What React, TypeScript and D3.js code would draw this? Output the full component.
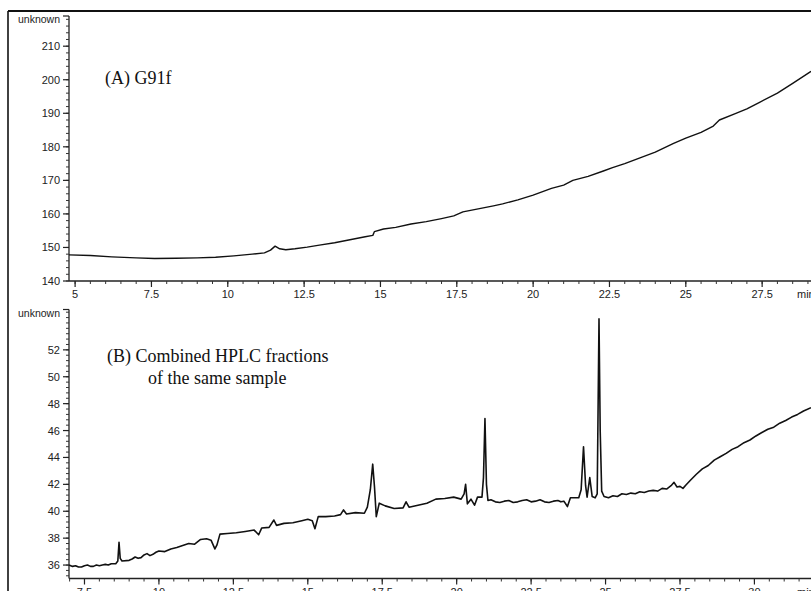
import * as React from "react";
import * as d3 from "d3";

// (A) G91f trace: retention time (min) and detector signal
const timeA = [4.8, 5.5, 6.2, 7.0, 7.6, 8.3, 9.0, 9.6, 10.2, 10.8, 11.2, 11.4, 11.55, 11.7, 11.9, 12.2, 12.6, 13.0, 13.5, 14.0, 14.5, 14.75, 14.8, 15.1, 15.5, 16.0, 16.5, 17.0, 17.4, 17.7, 18.2, 18.7, 19.0, 19.5, 20.0, 20.6, 21.0, 21.3, 21.8, 22.3, 22.6, 23.0, 23.5, 24.0, 24.6, 25.0, 25.5, 25.9, 26.1, 26.6, 27.0, 27.4, 28.0, 28.5, 29.1];
const valuesA = [147.8, 147.6, 147.2, 146.9, 146.7, 146.8, 146.9, 147.1, 147.5, 148.0, 148.4, 149.2, 150.4, 149.6, 149.3, 149.6, 150.1, 150.7, 151.4, 152.3, 153.2, 153.6, 154.7, 155.5, 156.0, 157.0, 157.7, 158.6, 159.4, 160.6, 161.5, 162.4, 163.0, 164.2, 165.6, 167.6, 168.6, 170.0, 171.2, 172.8, 173.8, 175.0, 176.7, 178.4, 181.0, 182.6, 184.3, 186.2, 188.0, 189.8, 191.3, 193.2, 196.0, 198.9, 202.5];

// (B) combined HPLC fractions trace
const timeB = [
  6.98, 7.1, 7.2, 7.3, 7.4, 7.5, 7.6, 7.7, 7.8, 7.9, 8.0, 8.1, 8.2, 8.3, 8.4, 8.55, 8.62, 8.66, 8.7, 8.76,
  9.0, 9.1, 9.2, 9.3, 9.4, 9.5, 9.6, 9.7, 9.8, 9.9, 10.0, 10.2, 10.4, 10.6, 10.8, 11.0, 11.2, 11.4, 11.6,
  11.75, 11.88, 11.95, 12.05, 12.3, 12.6, 12.9, 13.2, 13.35, 13.45, 13.7, 13.86, 13.95, 14.2, 14.5, 14.8, 15.0, 15.15, 15.24, 15.35,
  15.6, 15.9, 16.1, 16.2, 16.3, 16.6, 16.9, 17.0, 17.1, 17.18, 17.24, 17.3, 17.4, 17.6, 17.9, 18.2, 18.3, 18.4, 18.7, 19.0,
  19.3, 19.6, 19.9, 20.15, 20.25, 20.3, 20.36, 20.48, 20.6, 20.7, 20.85, 20.9, 20.95, 21.0, 21.05,
  21.15, 21.3, 21.45, 21.6, 21.75, 21.9, 22.05, 22.2, 22.35, 22.5, 22.65, 22.8, 22.95, 23.1, 23.25, 23.4, 23.5, 23.6, 23.72, 23.82,
  24.1, 24.18, 24.26, 24.33, 24.38, 24.47, 24.55, 24.65, 24.72, 24.78, 24.82, 24.87, 24.95,
  25.1, 25.25, 25.4, 25.55, 25.7, 25.85, 26.0, 26.15, 26.3, 26.45, 26.6, 26.75, 26.9, 27.05, 27.2, 27.3, 27.4, 27.5, 27.6, 27.7,
  27.85, 28.05, 28.25, 28.45, 28.65, 28.85, 29.05, 29.25, 29.45, 29.65, 29.85, 30.05, 30.25, 30.45, 30.65, 30.85, 31.05, 31.25, 31.45, 31.65, 31.9,
];
const valuesB = [
  36.0, 35.9, 35.95, 35.85, 35.85, 35.95, 36.0, 35.9, 35.9, 36.0, 35.95, 36.0, 36.05, 36.0, 36.1, 36.1, 36.3, 37.7, 36.5, 36.3,
  36.35, 36.45, 36.6, 36.5, 36.55, 36.75, 36.85, 36.7, 36.8, 36.95, 37.05, 37.0, 37.2, 37.3, 37.45, 37.6, 37.55, 37.9, 37.95,
  37.85, 37.2, 37.5, 38.3, 38.35, 38.4, 38.5, 38.6, 38.25, 38.75, 38.8, 39.35, 38.95, 39.1, 39.15, 39.3, 39.4, 39.3, 38.7, 39.6,
  39.6, 39.65, 39.75, 40.1, 39.8, 39.9, 39.85, 40.3, 41.6, 43.5, 41.8, 39.6, 40.6, 40.4, 40.2, 40.25, 40.7, 40.3, 40.45, 40.6,
  40.9, 40.95, 41.05, 40.9, 41.3, 42.0, 40.55, 40.9, 40.45, 41.05, 41.05, 42.5, 46.9, 42.0, 40.8,
  40.85, 40.7, 40.65, 40.75, 40.8, 40.65, 40.7, 40.8, 40.85, 40.7, 40.75, 40.85, 40.7, 40.65, 40.75, 40.8, 40.7, 40.75, 40.35, 41.0,
  41.0, 41.6, 44.8, 41.9, 41.05, 42.5, 41.1, 41.0, 41.3, 54.3, 46.0, 41.5, 41.1,
  41.0, 41.15, 41.1, 41.3, 41.25, 41.35, 41.3, 41.45, 41.4, 41.5, 41.55, 41.5, 41.7, 41.65, 41.9, 42.15, 41.8, 41.85, 41.7, 41.95,
  42.3, 42.75, 43.15, 43.4, 43.8, 44.05, 44.3, 44.6, 44.8, 45.1, 45.3, 45.6, 45.85, 46.1, 46.25, 46.55, 46.75, 47.0, 47.2, 47.45, 47.7,
];

// tick labels
const xTicksA = [5, 7.5, 10, 12.5, 15, 17.5, 20, 22.5, 25, 27.5];
const yTicksA = [140, 150, 160, 170, 180, 190, 200, 210];
const xTicksB = [7.5, 10, 12.5, 15, 17.5, 20, 22.5, 25, 27.5, 30];
const yTicksB = [36, 38, 40, 42, 44, 46, 48, 50, 52];

const W = 811;
const H = 591;
const AXIS_X = 69;
const SANS = "'Liberation Sans', Arial, sans-serif";
const SERIF = "'Liberation Serif', 'Times New Roman', serif";

type PanelProps = {
  times: number[];
  values: number[];
  xDomain: [number, number];
  yDomain: [number, number];
  yRange: [number, number];
  xTicks: number[];
  yTicks: number[];
  xMinorStep: number;
  yMinorStep: number;
  strokeWidth: number;
};

function Panel(props: PanelProps) {
  const { times, values, xDomain, yDomain, yRange, xTicks, yTicks, xMinorStep, yMinorStep, strokeWidth } = props;
  const x = d3.scaleLinear().domain(xDomain).range([AXIS_X, W]);
  const y = d3.scaleLinear().domain(yDomain).range(yRange);
  const baseY = yRange[0];

  const line = d3.line<number>()
    .x((_, i) => x(times[i]))
    .y(d => y(d));

  const xMinor = d3.range(Math.ceil(xDomain[0] / xMinorStep) * xMinorStep, xDomain[1], xMinorStep);
  const yMinor = d3.range(Math.ceil(yDomain[0] / yMinorStep) * yMinorStep, yDomain[1], yMinorStep);

  return (
    <g>
      {/* y axis */}
      <line x1={AXIS_X} x2={AXIS_X} y1={yRange[1]} y2={baseY} stroke="#222" strokeWidth={1.3} />
      {yMinor.map((v, i) => (
        <line key={"ym" + i} x1={AXIS_X - 3} x2={AXIS_X} y1={y(v)} y2={y(v)} stroke="#333" strokeWidth={1} />
      ))}
      {yTicks.map(v => (
        <g key={"y" + v}>
          <line x1={AXIS_X - 6} x2={AXIS_X} y1={y(v)} y2={y(v)} stroke="#222" strokeWidth={1.2} />
          <text x={60} y={y(v) + 4} textAnchor="end" fontFamily={SANS} fontSize={11} fill="#222">{v}</text>
        </g>
      ))}
      <line x1={AXIS_X - 6} x2={AXIS_X} y1={yRange[1]} y2={yRange[1]} stroke="#222" strokeWidth={1.2} />
      <text x={60} y={yRange[1] + 7} textAnchor="end" fontFamily={SANS} fontSize={10.5} fill="#222">unknown</text>

      {/* x axis */}
      <line x1={AXIS_X} x2={W} y1={baseY} y2={baseY} stroke="#222" strokeWidth={1.3} />
      {xMinor.map((v, i) => (
        <line key={"xm" + i} x1={x(v)} x2={x(v)} y1={baseY} y2={baseY + 3} stroke="#333" strokeWidth={1} />
      ))}
      {xTicks.map(v => (
        <g key={"x" + v}>
          <line x1={x(v)} x2={x(v)} y1={baseY} y2={baseY + 6} stroke="#222" strokeWidth={1.2} />
          <text x={x(v)} y={baseY + 17} textAnchor="middle" fontFamily={SANS} fontSize={11} fill="#222">{v}</text>
        </g>
      ))}
      <text x={797} y={baseY + 17} fontFamily={SANS} fontSize={11} fill="#222">min</text>

      {/* trace */}
      <path d={line(values) || ""} fill="none" stroke="#111" strokeWidth={strokeWidth} strokeLinejoin="round" />
    </g>
  );
}

export default function App() {
  return (
    <svg width={W} height={H} style={{ position: "absolute", left: 0, top: 0, background: "#fff" }}>
      <rect x={0} y={0} width={W} height={H} fill="#fff" />
      {/* outer frame */}
      <line x1={8} x2={W} y1={11} y2={11} stroke="#111" strokeWidth={2} />
      <line x1={8} x2={8} y1={11} y2={H} stroke="#111" strokeWidth={1.6} />

      <Panel
        times={timeA}
        values={valuesA}
        xDomain={[4.8, 29.1]}
        yDomain={[140, 219]}
        yRange={[281, 16]}
        xTicks={xTicksA}
        yTicks={yTicksA}
        xMinorStep={0.5}
        yMinorStep={2}
        strokeWidth={1.4}
      />
      <text x={105} y={84} fontFamily={SERIF} fontSize={18} fill="#111">(A)  G91f</text>

      <Panel
        times={timeB}
        values={valuesB}
        xDomain={[6.98, 31.9]}
        yDomain={[35, 55]}
        yRange={[578.5, 309.5]}
        xTicks={xTicksB}
        yTicks={yTicksB}
        xMinorStep={0.5}
        yMinorStep={0.4}
        strokeWidth={1.6}
      />
      <text x={107} y={362} fontFamily={SERIF} fontSize={18} fill="#111">(B) Combined HPLC fractions</text>
      <text x={148} y={384} fontFamily={SERIF} fontSize={18} fill="#111">of the same sample</text>
    </svg>
  );
}
